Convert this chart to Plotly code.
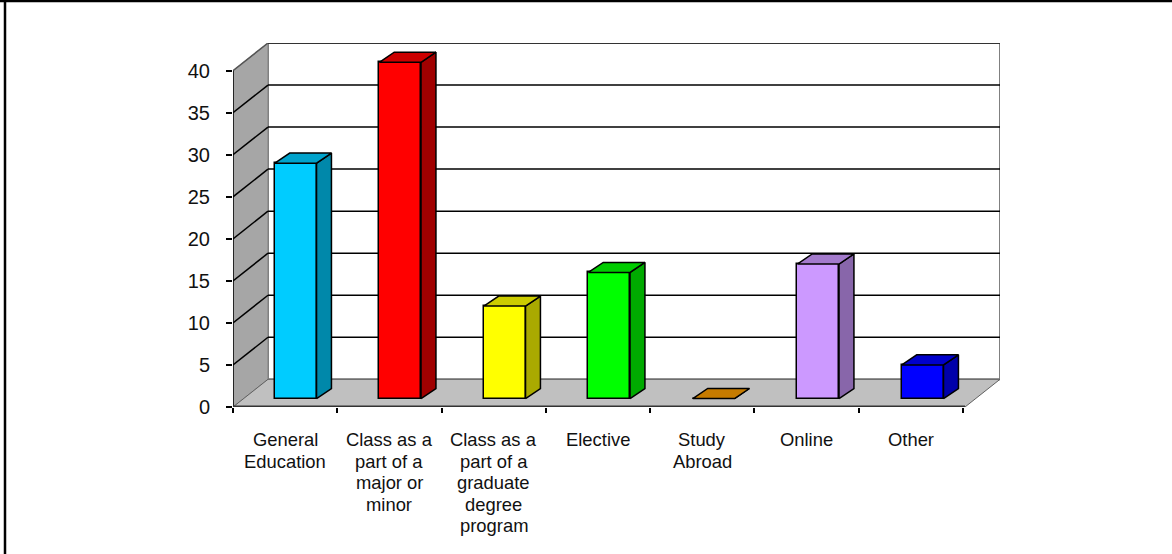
import plotly.graph_objects as go

categories = ["General<br>Education", "Class as a<br>part of a<br>major or<br>minor",
              "Class as a<br>part of a<br>graduate<br>degree<br>program", "Elective",
              "Study<br>Abroad", "Online", "Other"]
values = [28, 40, 11, 15, 0, 16, 4]
front_colors = ["#00CCFF", "#FF0000", "#FFFF00", "#00FF00", "#F79A00", "#CC99FF", "#0000FF"]
top_colors = ["#00A3CC", "#CC0000", "#CCCC00", "#00CC00", "#C67B00", "#A37ACC", "#0000CC"]
side_colors = ["#0088AA", "#A00000", "#AAAA00", "#00AA00", "#A46600", "#8866AA", "#0000AA"]
y_ticks = [0, 5, 10, 15, 20, 25, 30, 35, 40]

W, H = 1172, 554
L, R, T, B = 233, 1000, 43, 407
N = len(categories)
DX, DY = 35 / 104.3, 27.7 / 8.41    # wall depth in axis units
EX = 0.019                          # floor overhang past the last tick
BX, BY = 0.1, 1.0                   # bar offset from the front plane
BS = 1.002                          # bar spacing relative to the tick spacing
BDX, BDY = 0.143, 1.2               # bar depth
BW = 0.4

centres = [(i + 0.5) * BS + BX for i in range(N)]

fig = go.Figure()
fig.add_trace(go.Bar(
    x=centres, y=values, base=BY, width=BW,
    marker=dict(color=front_colors, line=dict(color="black", width=1.5)), hoverinfo="skip"))

for i, v in enumerate(values):
    x0 = centres[i] - BW / 2
    x1 = x0 + BW
    yb, yt = BY, BY + v
    fig.add_trace(go.Scatter(
        x=[x1, x1 + BDX, x1 + BDX, x1, x1], y=[yb, yb + BDY, yt + BDY, yt, yb],
        mode="lines", fill="toself", fillcolor=side_colors[i],
        line=dict(color="black", width=1.5), hoverinfo="skip"))
    fig.add_trace(go.Scatter(
        x=[x0, x1, x1 + BDX, x0 + BDX, x0], y=[yt, yt, yt + BDY, yt + BDY, yt],
        mode="lines", fill="toself", fillcolor=top_colors[i],
        line=dict(color="black", width=1.5), hoverinfo="skip"))

shapes = []
def poly(pts, fill, line, width=1):
    path = "M " + " L ".join(f"{x},{y}" for x, y in pts) + " Z"
    shapes.append(dict(type="path", path=path, xref="x", yref="y", layer="below",
                       fillcolor=fill, line=dict(color=line, width=width)))
def seg(x0, y0, x1, y1, color, width):
    shapes.append(dict(type="line", x0=x0, y0=y0, x1=x1, y1=y1, xref="x", yref="y",
                       layer="below", line=dict(color=color, width=width)))

top = max(y_ticks)
XB = N + EX + DX
poly([(DX, DY), (XB, DY), (XB, top + DY), (DX, top + DY)], "white", "#808080", 2)
poly([(0, 0), (DX, DY), (DX, top + DY), (0, top)], "#A6A6A6", "#808080", 1)
poly([(0, 0), (N + EX, 0), (XB, DY), (DX, DY)], "#C0C0C0", "#606060", 1)
for t in y_ticks[1:-1]:
    seg(0, t, DX, t + DY, "black", 1.5)
    seg(DX, t + DY, XB, t + DY, "black", 1.5)
seg(0, top, DX, top + DY, "#555555", 1.5)
seg(DX, top + DY, XB, top + DY, "#333333", 2)
# outer chart frame
for s in [dict(x0=(5 - L) / (R - L), x1=(5 - L) / (R - L), y0=-1, y1=2),
          dict(x0=-1, x1=2, y0=(B - 1) / (B - T), y1=(B - 1) / (B - T))]:
    shapes.append(dict(type="line", xref="paper", yref="paper", layer="above",
                       line=dict(color="black", width=2.5), **s))

# category labels, one annotation per line to get the tighter line spacing
annotations = []
for i, c in enumerate(categories):
    for k, line in enumerate(c.split("<br>")):
        annotations.append(dict(x=i + 0.5, y=0, xref="x", yref="y", text=line, showarrow=False,
                                xanchor="center", yanchor="middle", yshift=-(32.5 + 21.5 * k),
                                font=dict(size=18.4, color="#111111")))

fig.update_layout(
    width=W, height=H, autosize=False, showlegend=False, bargap=0,
    paper_bgcolor="white", plot_bgcolor="white",
    margin=dict(l=L, r=W - R, t=T, b=H - B, pad=0),
    font=dict(family="Liberation Sans, Arial, sans-serif", color="black"),
    shapes=shapes, annotations=annotations,
    xaxis=dict(range=[0, XB], tickmode="array", tickvals=list(range(N + 1)),
               ticks="outside", ticklen=5, tickwidth=2, tickcolor="black", showticklabels=False,
               showgrid=False, zeroline=False, showline=False),
    yaxis=dict(range=[0, top + DY], tickmode="array", tickvals=y_ticks, ticks="outside",
               ticklen=6, tickwidth=2, tickcolor="black", tickfont=dict(size=20, color="#111111"),
               ticklabelstandoff=12, showgrid=False, zeroline=False, showline=False),
)
# axis lines limited to the front plane
fig.add_trace(go.Scatter(x=[0, 0], y=[0, top], mode="lines", line=dict(color="black", width=1.5),
                         hoverinfo="skip", cliponaxis=False))
fig.add_trace(go.Scatter(x=[0, N + EX], y=[0, 0], mode="lines", line=dict(color="#333333", width=3),
                         hoverinfo="skip", cliponaxis=False))
fig.write_html("out.html", config=dict(displayModeBar=False),
               post_script="document.body.style.margin='0';document.body.style.overflow='hidden';")
